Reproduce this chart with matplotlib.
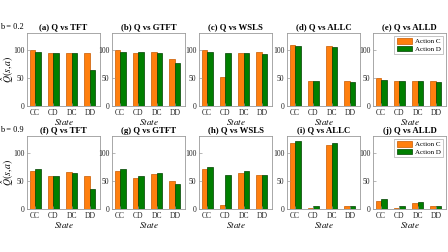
import matplotlib
matplotlib.use("Agg")
import matplotlib.pyplot as plt
import numpy as np

plt.rcParams['font.family'] = ['Liberation Serif', 'DejaVu Serif']
plt.rcParams['mathtext.fontset'] = 'stix'

states = ["CC", "CD", "DC", "DD"]
row_labels = ["b = 0.2", "b = 0.9"]
titles = ["(a) Q vs TFT", "(b) Q vs GTFT", "(c) Q vs WSLS", "(d) Q vs ALLC", "(e) Q vs ALLD",
          "(f) Q vs TFT", "(g) Q vs GTFT", "(h) Q vs WSLS", "(i) Q vs ALLC", "(j) Q vs ALLD"]

# Row 1 (b = 0.2): Action C and Action D values per state
tft_c_02 = [100, 95, 95, 95];   tft_d_02 = [96, 95, 94, 65]
gtft_c_02 = [100, 94, 96, 84];  gtft_d_02 = [96, 96, 94, 77]
wsls_c_02 = [100, 51, 94, 96];  wsls_d_02 = [96, 95, 94, 93]
allc_c_02 = [109, 44, 106, 45]; allc_d_02 = [107, 45, 105, 43]
alld_c_02 = [49, 44, 45, 45];   alld_d_02 = [46, 45, 44, 43]

# Row 2 (b = 0.9)
tft_c_09 = [67, 58, 66, 58];    tft_d_09 = [72, 58, 64, 36]
gtft_c_09 = [67, 56, 63, 50];   gtft_d_09 = [71, 59, 65, 45]
wsls_c_09 = [71, 6.5, 65, 61];  wsls_d_09 = [74, 61, 68, 61]
allc_c_09 = [117, 2.5, 114, 5]; allc_d_09 = [121, 5, 117, 5]
alld_c_09 = [14, 2, 11, 6];     alld_d_09 = [18.5, 6, 13, 6]

series_c = [tft_c_02, gtft_c_02, wsls_c_02, allc_c_02, alld_c_02,
            tft_c_09, gtft_c_09, wsls_c_09, allc_c_09, alld_c_09]
series_d = [tft_d_02, gtft_d_02, wsls_d_02, allc_d_02, alld_d_02,
            tft_d_09, gtft_d_09, wsls_d_09, allc_d_09, alld_d_09]

W, H = 448, 252
fig = plt.figure(figsize=(W / 100, H / 100), dpi=100)

lefts = [27, 112, 199, 287, 373]
aw = 73
row_tops = [33, 136]
ah = 73

orange = "#FF7F0E"
orange_e = "#C85A00"
green = "#007F00"
green_e = "#004000"
spine_col = "#9a9a9a"

x = np.arange(1, 5)
bw = 0.3
for i in range(10):
    r, c = divmod(i, 5)
    l = lefts[c]
    t = row_tops[r]
    ax = fig.add_axes([l / W, 1 - (t + ah) / H, aw / W, ah / H])
    ax.bar(x - bw / 2, series_c[i], bw, color=orange, edgecolor=orange_e, linewidth=0.5, label="Action C")
    ax.bar(x + bw / 2, series_d[i], bw, color=green, edgecolor=green_e, linewidth=0.5, label="Action D")
    ax.set_xlim(0.55, 4.55)
    ax.set_ylim(0, 130)
    ax.set_yticks([0, 50, 100])
    ax.set_xticks(x)
    ax.set_xticklabels(states)
    ax.tick_params(axis='both', direction='in', length=2, width=0.5, labelsize=5.5,
                   colors='#222222', pad=2)
    ax.tick_params(axis='both', color=spine_col)
    for s in ax.spines.values():
        s.set_color(spine_col)
        s.set_linewidth(0.6)
    ax.set_title(titles[i], fontsize=6.3, fontweight='semibold', pad=2.5)
    ax.set_xlabel("$State$", fontsize=6.5, labelpad=0)
    if c == 0:
        ax.set_ylabel(r"$\hat{Q}(s,a)$", fontsize=7)
        ax.yaxis.set_label_coords(-0.15, 0.5)
        fig.text(0.5 / W, 1 - (t - 6) / H, row_labels[r], fontsize=6,
                 ha='left', va='center')
    if c == 4:
        ax.legend(loc='upper right', fontsize=5, frameon=True, fancybox=False,
                  edgecolor=spine_col, handlelength=2.2, handleheight=0.9,
                  borderpad=0.3, labelspacing=0.2, handletextpad=0.5,
                  borderaxespad=0.4).get_frame().set_linewidth(0.5)

fig.savefig("out.png", dpi=100)
